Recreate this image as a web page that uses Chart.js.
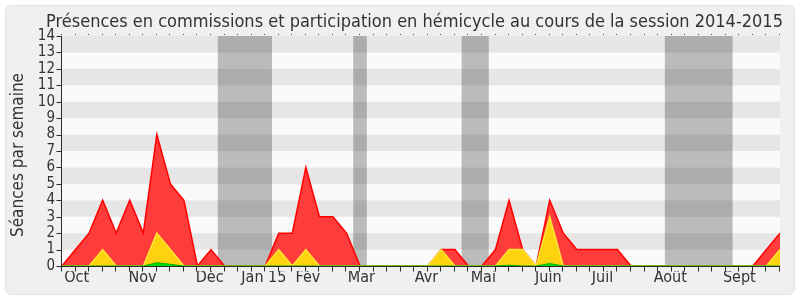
<!DOCTYPE html>
<html>
<head>
<meta charset="utf-8">
<script src="https://cdn.jsdelivr.net/npm/chart.js@4"></script>
<style>
  html, body { margin: 0; padding: 0; background: #fff; }
  #wrap { width: 800px; height: 300px; }
</style>
</head>
<body>
<div id="wrap"><canvas id="presences" width="800" height="300"></canvas></div>
<script>
// weekly values, session 2014-2015 (54 weeks)
const commission = [0, 1, 2, 4, 2, 4, 2, 8, 5, 4, 0, 1, 0, 0, 0, 0, 2, 2, 6, 3, 3, 2, 0, 0, 0, 0, 0, 0, 1, 1, 0, 0, 1, 4, 1, 0, 4, 2, 1, 1, 1, 1, 0, 0, 0, 0, 0, 0, 0, 0, 0, 0, 1, 2];
const hemicycle = [0, 0, 0, 1, 0, 0, 0, 2, 1, 0, 0, 0, 0, 0, 0, 0, 1, 0, 1, 0, 0, 0, 0, 0, 0, 0, 0, 0, 1, 0, 0, 0, 0, 1, 1, 0, 3, 0, 0, 0, 0, 0, 0, 0, 0, 0, 0, 0, 0, 0, 0, 0, 0, 1];
const interventions = [0, 0, 0, 0, 0, 0, 0, 0.2, 0.1, 0, 0, 0, 0, 0, 0, 0, 0, 0, 0, 0, 0, 0, 0, 0, 0, 0, 0, 0, 0, 0, 0, 0, 0, 0.05, 0, 0, 0.15, 0, 0, 0, 0, 0, 0, 0, 0, 0, 0, 0, 0, 0, 0, 0, 0, 0];
const weeks = commission.map((v, i) => i);

// vacances parlementaires (first and last week)
const vacStart = [12, 22, 30, 45];
const vacEnd = [15, 22, 31, 49];

const monthLabels = ["Oct", "Nov", "Déc", "Jan 15", "Fév", "Mar", "Avr", "Mai", "Juin", "Juil", "Août", "Sept"];
const monthTicks = [1.08, 5.94, 10.9, 14.9, 18.15, 22.1, 26.9, 31.1, 35.9, 39.9, 44.9, 50.0];

const yTicks = [0, 1, 2, 3, 4, 5, 6, 7, 8, 9, 10, 11, 12, 13, 14];

const titleText = "Présences en commissions et participation en hémicycle au cours de la session 2014-2015";
const yTitle = "Séances par semaine";

const FONT = "'DejaVu Sans Condensed', 'DejaVu Sans', sans-serif";
const TXT = "#333";
const AXIS = "#2a2a2a";

const background = {
  id: "background",
  beforeDraw: (chart) => {
    const { ctx, chartArea: a } = chart;
    const x = chart.scales.x;
    const y = chart.scales.y;
    ctx.save();
    ctx.fillStyle = "#fff";
    ctx.fillRect(0, 0, chart.width, chart.height);
    ctx.beginPath();
    ctx.roundRect(5.5, 5.5, chart.width - 11, chart.height - 11, 6);
    ctx.fillStyle = "#f0f0f0";
    ctx.fill();
    ctx.strokeStyle = "#e2e2e2";
    ctx.lineWidth = 1;
    ctx.stroke();
    // horizontal stripes
    for (let k = 0; k < yTicks.length - 1; k++) {
      const top = y.getPixelForValue(yTicks[k + 1]);
      const bot = y.getPixelForValue(yTicks[k]);
      ctx.fillStyle = k % 2 ? "#e6e6e6" : "#fafafa";
      ctx.fillRect(a.left, top, a.right - a.left, bot - top);
    }
    // holiday bands
    ctx.fillStyle = "rgba(0,0,0,0.25)";
    vacStart.forEach((s, i) => {
      const x0 = Math.max(a.left, x.getPixelForValue(s - 0.5));
      const x1 = Math.min(a.right, x.getPixelForValue(vacEnd[i] + 0.5));
      ctx.fillRect(x0, a.top, x1 - x0, a.bottom - a.top);
    });
    ctx.restore();
  },
  afterDatasetsDraw: (chart) => {
    // axis lines + tick marks
    const { ctx, chartArea: a } = chart;
    const x = chart.scales.x;
    const y = chart.scales.y;
    ctx.save();
    ctx.strokeStyle = AXIS;
    ctx.lineWidth = 1;
    ctx.beginPath();
    const left = Math.round(a.left) - 0.5;
    const bottom = Math.round(a.bottom) + 0.5;
    ctx.moveTo(left, a.top);
    ctx.lineTo(left, bottom);
    ctx.lineTo(a.right, bottom);
    yTicks.forEach((v) => {
      const py = Math.round(y.getPixelForValue(v)) + 0.5;
      ctx.moveTo(left - 5, py);
      ctx.lineTo(left, py);
    });
    weeks.forEach((v) => {
      const px = Math.round(x.getPixelForValue(v)) - 0.5;
      ctx.moveTo(px, bottom);
      ctx.lineTo(px, bottom + 5);
    });
    ctx.stroke();
    // dotted ticks on top
    ctx.fillStyle = "#444";
    weeks.forEach((v) => {
      const px = Math.round(x.getPixelForValue(v)) - 1;
      ctx.fillRect(px, Math.round(a.top) - 2, 1, 1);
    });
    ctx.restore();
  },
  afterDraw: (chart) => {
    const { ctx } = chart;
    ctx.save();
    ctx.fillStyle = TXT;
    ctx.textAlign = "center";
    ctx.textBaseline = "alphabetic";
    ctx.font = "18px " + FONT;
    ctx.fillText(titleText, 414.5, 26.5);
    ctx.translate(23, 155);
    ctx.rotate(-Math.PI / 2);
    ctx.font = "17px " + FONT;
    ctx.fillText(yTitle, 0, 0);
    ctx.restore();
  },
};

const data = {
  labels: weeks,
  datasets: [
    {
      label: "Interventions",
      data: interventions,
      borderColor: "#00b000",
      backgroundColor: "#00e000",
      borderWidth: 1,
      fill: "origin",
    },
    {
      label: "Hémicycle",
      data: hemicycle,
      borderColor: "#ffe633",
      backgroundColor: "#ffd20f",
      borderWidth: 1.5,
      fill: "origin",
    },
    {
      label: "Commission",
      data: commission,
      borderColor: "#ff0000",
      backgroundColor: "#ff3c3c",
      borderWidth: 1.5,
      fill: "origin",
    },
  ],
};

const config = {
  type: "line",
  data,
  options: {
    responsive: false,
    animation: false,
    layout: {
      padding: { left: 6, right: 20, top: 36, bottom: 0 },
    },
    elements: {
      point: { radius: 0 },
      line: { tension: 0 },
    },
    scales: {
      x: {
        type: "linear",
        position: "bottom",
        min: 0,
        max: weeks.length - 1,
        afterBuildTicks: (s) => {
          s.ticks = weeks.map((v) => ({ value: v }));
        },
        afterFit: (s) => {
          s.height = 5;
        },
        ticks: { display: false, autoSkip: false },
        grid: { display: false, drawTicks: false },
        border: { display: false },
      },
      months: {
        type: "linear",
        position: "bottom",
        min: 0,
        max: weeks.length - 1,
        afterBuildTicks: (s) => {
          s.ticks = monthTicks.map((v) => ({ value: v }));
        },
        afterFit: (s) => {
          s.height = 34 - 5;
        },
        ticks: {
          autoSkip: false,
          maxRotation: 0,
          padding: -3,
          color: TXT,
          font: { family: FONT, size: 16 },
          callback: (value, index) => monthLabels[index],
        },
        grid: { display: false, drawTicks: false },
        border: { display: false },
      },
      y: {
        min: 0,
        max: 14,
        afterBuildTicks: (s) => {
          s.ticks = yTicks.map((v) => ({ value: v }));
        },
        afterFit: (s) => {
          s.width = 56;
        },
        ticks: {
          autoSkip: false,
          padding: 7,
          color: TXT,
          font: { family: FONT, size: 15 },
        },
        grid: { display: false, drawTicks: false },
        border: { display: false },
      },
    },
    plugins: {
      legend: { display: false },
      tooltip: { enabled: false },
      title: { display: false },
    },
  },
  plugins: [background],
};

const chart = new Chart(document.getElementById("presences"), config);
</script>
</body>
</html>
